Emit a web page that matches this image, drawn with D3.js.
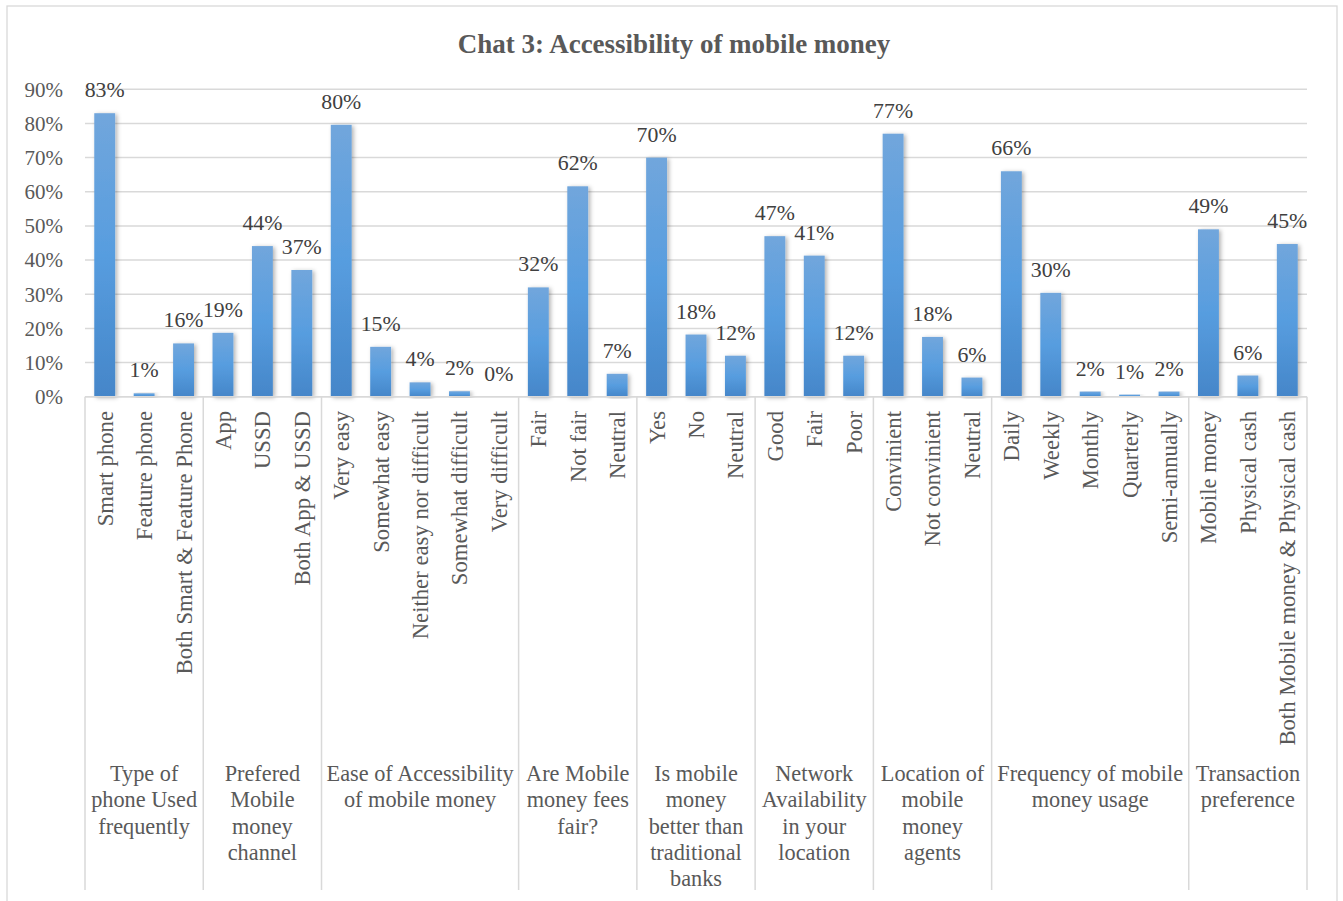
<!DOCTYPE html>
<html>
<head>
<meta charset="utf-8">
<script src="https://cdn.jsdelivr.net/npm/d3@7"></script>
<style>
  body { margin: 0; background: #fff; }
  svg { display: block; font-family: "Times New Roman", "Liberation Serif", serif; }
</style>
</head>
<body>
<svg id="chart" width="1343" height="901"></svg>
<script>
// data (percent)
const groups = [
  ["Type of", "phone Used", "frequently"],
  ["Prefered", "Mobile", "money", "channel"],
  ["Ease of Accessibility", "of mobile money"],
  ["Are Mobile", "money fees", "fair?"],
  ["Is mobile", "money", "better than", "traditional", "banks"],
  ["Network", "Availability", "in your", "location"],
  ["Location of", "mobile", "money", "agents"],
  ["Frequency of mobile", "money usage"],
  ["Transaction", "preference"]
]
const categories = [
  ["Smart phone", "Feature phone", "Both Smart & Feature Phone"],
  ["App", "USSD", "Both App & USSD"],
  ["Very easy", "Somewhat easy", "Neither easy nor difficult", "Somewhat difficult", "Very difficult"],
  ["Fair", "Not fair", "Neutral"],
  ["Yes", "No", "Neutral"],
  ["Good", "Fair", "Poor"],
  ["Convinient", "Not convinient", "Neutral"],
  ["Daily", "Weekly", "Monthly", "Quarterly", "Semi-annually"],
  ["Mobile money", "Physical cash", "Both Mobile money & Physical cash"]
]
const values = [
  [83, 1, 15.6],
  [18.7, 44.1, 37.1],
  [79.6, 14.6, 4.2, 1.6, 0],
  [32, 61.6, 6.7],
  [70, 18.2, 12],
  [47, 41.3, 12],
  [77, 17.5, 5.6],
  [66, 30.4, 1.5, 0.6, 1.5],
  [49, 6.2, 44.7]
]
const yTicks = [0, 10, 20, 30, 40, 50, 60, 70, 80, 90]

// flatten into bars
var bars = []
var groupSpans = []
groups.forEach(function(g, gi) {
  var start = bars.length
  categories[gi].forEach(function(c, ci) {
    bars.push({ id: gi + "-" + ci, label: c, value: values[gi][ci] })
  })
  groupSpans.push({ lines: g, start: start, end: bars.length })
})

const svg = d3.select("#chart")
const plotLeft = 85, plotRight = 1307, plotTop = 89.3, plotBottom = 396.7

const x = d3.scaleBand()
  .domain(bars.map(d => d.id))
  .range([plotLeft, plotRight])
  .paddingInner(0.47)
  .paddingOuter(0.235)

const y = d3.scaleLinear().domain([0, 90]).range([plotBottom, plotTop])

const edge = i => plotLeft + i * (plotRight - plotLeft) / bars.length

// chart border
svg.append("rect")
  .attr("x", 7).attr("y", 6).attr("width", 1330).attr("height", 920)
  .attr("fill", "#fff").attr("stroke", "#d9d9d9").attr("stroke-width", 1.3)

// defs
const defs = svg.append("defs")
const grad = defs.append("linearGradient")
  .attr("id", "barGrad").attr("x1", 0).attr("y1", 0).attr("x2", 0).attr("y2", 1)
grad.append("stop").attr("offset", "0%").attr("stop-color", "#71a6dc")
grad.append("stop").attr("offset", "50%").attr("stop-color", "#579ddf")
grad.append("stop").attr("offset", "100%").attr("stop-color", "#4586c9")

const shadow = defs.append("filter").attr("id", "shadow")
  .attr("x", "-50%").attr("y", "-10%").attr("width", "200%").attr("height", "120%")
shadow.append("feDropShadow")
  .attr("dx", 2).attr("dy", 1).attr("stdDeviation", 2)
  .attr("flood-color", "#000").attr("flood-opacity", 0.3)

// title
svg.append("text")
  .attr("x", 674).attr("y", 53)
  .attr("text-anchor", "middle")
  .attr("font-size", 27).attr("font-weight", "bold")
  .attr("fill", "#595959")
  .text("Chat 3: Accessibility of mobile money")

// gridlines
svg.append("g")
  .selectAll("line")
  .data(yTicks)
  .join("line")
  .attr("x1", plotLeft).attr("x2", plotRight)
  .attr("y1", d => y(d)).attr("y2", d => y(d))
  .attr("stroke", "#d9d9d9").attr("stroke-width", 1.5)

// y labels
svg.append("g")
  .selectAll("text")
  .data(yTicks)
  .join("text")
  .attr("x", 63).attr("y", d => y(d))
  .attr("dy", "0.35em")
  .attr("text-anchor", "end")
  .attr("font-size", 21)
  .attr("fill", "#595959")
  .text(d => d + "%")

// bars
svg.append("g")
  .selectAll("rect")
  .data(bars)
  .join("rect")
  .attr("x", d => x(d.id))
  .attr("width", x.bandwidth())
  .attr("y", d => y(d.value))
  .attr("height", d => plotBottom - y(d.value))
  .attr("fill", "url(#barGrad)")
  .attr("filter", "url(#shadow)")

// data labels
svg.append("g")
  .selectAll("text")
  .data(bars)
  .join("text")
  .attr("x", d => x(d.id) + x.bandwidth() / 2)
  .attr("y", d => y(d.value) - 16)
  .attr("text-anchor", "middle")
  .attr("font-size", 21.8)
  .attr("fill", "#404040")
  .text(d => Math.round(d.value) + "%")

// axis line + group separators
svg.append("line")
  .attr("x1", plotLeft).attr("x2", plotRight).attr("y1", plotBottom).attr("y2", plotBottom)
  .attr("stroke", "#d9d9d9").attr("stroke-width", 1.5)

var sepIdx = [0].concat(groupSpans.map(g => g.end))
svg.append("g")
  .selectAll("line")
  .data(sepIdx)
  .join("line")
  .attr("x1", d => edge(d)).attr("x2", d => edge(d))
  .attr("y1", plotBottom).attr("y2", 890)
  .attr("stroke", "#d9d9d9").attr("stroke-width", 1.5)

// category labels (rotated)
svg.append("g")
  .selectAll("text")
  .data(bars)
  .join("text")
  .attr("transform", d => "translate(" + (x(d.id) + x.bandwidth() / 2) + ",411) rotate(-90)")
  .attr("dy", "0.35em")
  .attr("text-anchor", "end")
  .attr("font-size", 22.7)
  .attr("fill", "#595959")
  .text(d => d.label)

// group labels
var gl = svg.append("g")
  .selectAll("text")
  .data(groupSpans)
  .join("text")
  .attr("text-anchor", "middle")
  .attr("font-size", 22.3)
  .attr("fill", "#595959")
gl.each(function(g) {
  var cx = (edge(g.start) + edge(g.end)) / 2
  d3.select(this).selectAll("tspan")
    .data(g.lines)
    .join("tspan")
    .attr("x", cx)
    .attr("y", (d, i) => 781 + i * 26.3)
    .text(d => d)
})
</script>
</body>
</html>
